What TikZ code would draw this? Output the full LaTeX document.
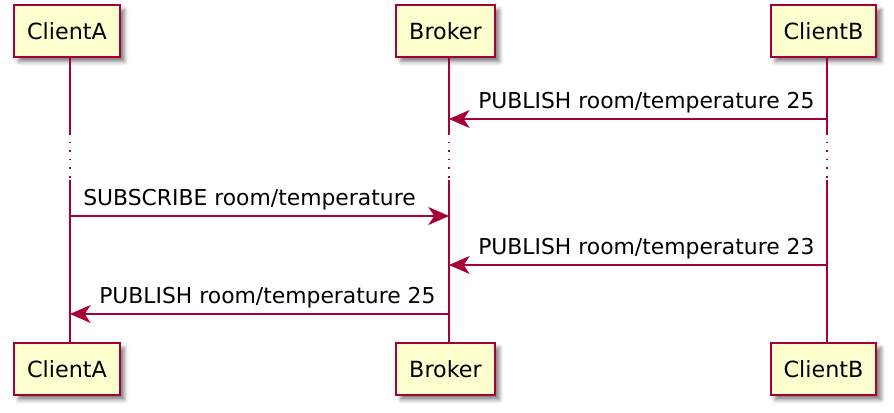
\documentclass[tikz,border=0pt]{standalone}
\usepackage{fontspec}
\setmainfont{DejaVu Sans}
\usetikzlibrary{arrows.meta,shadows.blur}
\definecolor{umlred}{HTML}{A80036}
\definecolor{umlfill}{HTML}{FEFECE}
\tikzset{
    x=0.75pt, y=-0.75pt,
    part/.style ={draw=umlred, fill=umlfill, line width=1.4pt, minimum height=39pt,
        inner xsep=9.75pt, font=\fontsize{16.7}{20}\selectfont,
        blur shadow={shadow xshift=3.5pt, shadow yshift=-3.5pt, shadow blur radius=3pt, shadow opacity=50}},
    life/.style ={umlred, line width=1.1pt},
    gap/.style ={umlred, line width=1.1pt, dash pattern=on 1.4pt off 5pt},
    msg/.style ={umlred, line width=1.1pt, -{Stealth[length=15.5pt,width=13.5pt,inset=4.5pt]}},
    lbl/.style ={anchor=base west, inner sep=0pt, font=\fontsize{16.4}{20}\selectfont}
}
\begin{document}
\begin{tikzpicture}
    \useasboundingbox (0,0) rectangle (894,412);
    % lifeline positions
    \coordinate (a) at (70,0);
    \coordinate (b) at (449,0);
    \coordinate (c) at (827,0);
    \coordinate (g1) at (0,133);
    \coordinate (g2) at (0,180);

    \node[part] (A) at (67,31) {ClientA};
    \node[part] (B) at (445.5,31) {Broker};
    \node[part] (C) at (823.5,31) {ClientB};

    \foreach \p/\q in {a/A,b/B,c/C}{
        \draw[life] (\p |- \q.south) -- (\p |- g1);
        \draw[gap] (\p |- g1) -- (\p |- g2);
        \draw[life] (\p |- g2) -- (\p |- 0,343);
    }

    \node[part] (A2) at (67,369) {ClientA};
    \node[part] (B2) at (445.5,369) {Broker};
    \node[part] (C2) at (823.5,369) {ClientB};

    \coordinate (m1) at (0,119);
    \coordinate (m2) at (0,216);
    \coordinate (m3) at (0,265);
    \coordinate (m4) at (0,314);

    \draw[msg] (c |- m1) -- (b |- m1);
    \node[lbl] (t1) at (478,108.5) {PUBLISH room/temperature 25};
    \draw[msg] (a |- m2) -- (b |- m2);
    \node[lbl] (t2) at (83,205.5) {SUBSCRIBE room/temperature};
    \draw[msg] (c |- m3) -- (b |- m3);
    \node[lbl] (t3) at (478,254.5) {PUBLISH room/temperature 23};
    \draw[msg] (b |- m4) -- (a |- m4);
    \node[lbl] (t4) at (99,303.5) {PUBLISH room/temperature 25};
\end{tikzpicture}
\end{document}
